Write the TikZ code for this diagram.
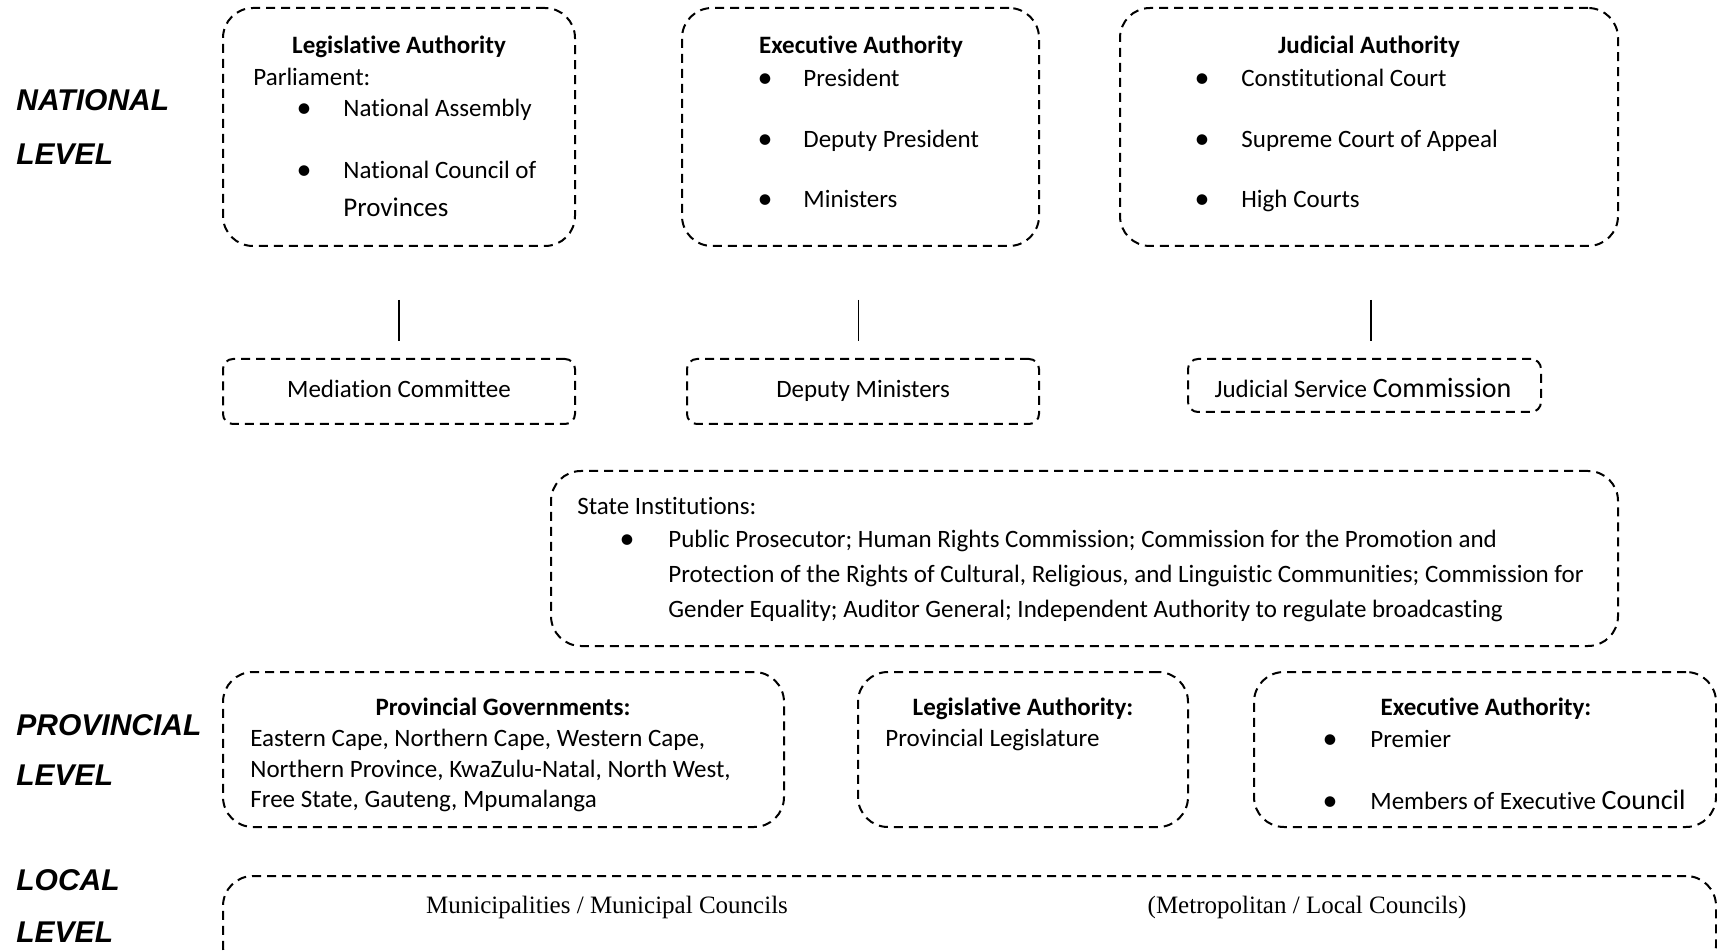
\documentclass[tikz,border=0pt]{standalone}
\usepackage{fontspec}
\setmainfont{Carlito}[Ligatures=NoCommon]
\newfontfamily\levelfont{Liberation Sans}
\newfontfamily\seriffont{Liberation Serif}
\usepackage{tikz}
\usetikzlibrary{positioning}

\begin{document}
\begin{tikzpicture}[
  x=0.5pt, y=-0.5pt,
  bigbox/.style={draw, line width=1pt, dash pattern=on 4.5pt off 3pt, rounded corners=15pt, inner sep=0pt},
  smallbox/.style={bigbox, rounded corners=5pt},
  txt/.style={anchor=base west, inner sep=0pt, font=\fontsize{12.5}{15}\selectfont},
  head/.style={txt, anchor=base, font=\fontsize{12.5}{15}\selectfont\bfseries},
  dot/.style={anchor=base, inner sep=0pt, font=\fontsize{15}{15}\selectfont},
  lvl/.style={anchor=base west, inner sep=0pt, font=\levelfont\fontsize{15}{17}\selectfont\bfseries\itshape},
  link/.style={draw, line width=0.6pt}
]
  \useasboundingbox (0,0) rectangle (1717,951);

  % level labels
  \node[lvl] (natA) at (16,111) {NATIONAL};
  \node[lvl] (natB) at (16,165) {LEVEL};
  \node[lvl] (proA) at (16,735) {PROVINCIAL};
  \node[lvl] (proB) at (16,785) {LEVEL};
  \node[lvl] (locA) at (16,890) {LOCAL};
  \node[lvl] (locB) at (16,942) {LEVEL};

  % national level
  \node[bigbox, minimum width=176pt, minimum height=119pt] (leg) at (399,127) {};
  \node[head] (legH) at (399,54) {Legislative Authority};
  \node[txt] (legP) at (253,86) {Parliament:};
  \node[dot] (legB1) at (304,118) {•};
  \node[txt] (legI1) at (343,117) {National Assembly};
  \node[dot] (legB2) at (304,180) {•};
  \node[txt] (legI2) at (343,179) {National Council of};
  \node[txt, font=\fontsize{13.5}{16}\selectfont] (legI3) at (343,217) {Provinces};

  \node[bigbox, minimum width=178.5pt, minimum height=119pt] (exe) at (860.5,127) {};
  \node[head] (exeH) at (861,54) {Executive Authority};
  \node[dot] (exeB1) at (765,88) {•};
  \node[txt] (exeI1) at (803,87) {President};
  \node[dot] (exeB2) at (765,149) {•};
  \node[txt] (exeI2) at (803,148) {Deputy President};
  \node[dot] (exeB3) at (765,209) {•};
  \node[txt] (exeI3) at (803,208) {Ministers};

  \node[bigbox, minimum width=249pt, minimum height=119pt] (jud) at (1369,127) {};
  \node[head] (judH) at (1369,54) {Judicial Authority};
  \node[dot] (judB1) at (1202,88) {•};
  \node[txt] (judI1) at (1241,87) {Constitutional Court};
  \node[dot] (judB2) at (1202,149) {•};
  \node[txt] (judI2) at (1241,148) {Supreme Court of Appeal};
  \node[dot] (judB3) at (1202,209) {•};
  \node[txt] (judI3) at (1241,208) {High Courts};

  \node[smallbox, minimum width=176pt, minimum height=32.5pt] (med) at (399,391.5) {};
  \node[head, font=\fontsize{12.5}{15}\selectfont] (medT) at (399,398) {Mediation Committee};
  \node[smallbox, minimum width=176pt, minimum height=32.5pt] (dep) at (863,391.5) {};
  \node[head, font=\fontsize{12.5}{15}\selectfont] (depT) at (863,398) {Deputy Ministers};
  \node[smallbox, minimum width=176.5pt, minimum height=26.5pt] (jsc) at (1364.5,385.5) {};
  \node[head, font=\fontsize{12.5}{15}\selectfont] (jscT) at (1363,398) {Judicial Service {\fontsize{14}{16}\selectfont Commission}};

  \draw[link, shorten <=26.5pt, shorten >=8.5pt] (leg.south) -- (leg.south |- med.north);
  \draw[link, shorten <=26.5pt, shorten >=8.5pt] ([xshift=-1pt]exe.south) -- ([xshift=-1pt]exe.south |- dep.north);
  \draw[link, shorten <=26.5pt, shorten >=8.5pt] ([xshift=1pt]jud.south) -- ([xshift=1pt]jud.south |- jsc.north);

  \node[bigbox, minimum width=533.5pt, minimum height=87.5pt] (sta) at (1084.5,558.5) {};
  \node[txt] (staH) at (577,515) {State Institutions:};
  \node[dot] (staB) at (627,548) {•};
  \node[txt] (staL1) at (668,547) {Public Prosecutor; Human Rights Commission; Commission for the Promotion and};
  \node[txt] (staL2) at (668,582) {Protection of the Rights of Cultural, Religious, and Linguistic Communities; Commission for};
  \node[txt] (staL3) at (668,617) {Gender Equality; Auditor General; Independent Authority to regulate broadcasting};

  % provincial level
  \node[bigbox, minimum width=280.5pt, minimum height=77.5pt] (pgov) at (503.5,749.5) {};
  \node[head] (pgovH) at (503,715) {Provincial Governments:};
  \node[txt] (pgovL1) at (250,746) {Eastern Cape, Northern Cape, Western Cape,};
  \node[txt] (pgovL2) at (250,777) {Northern Province, KwaZulu-Natal, North West,};
  \node[txt] (pgovL3) at (250,807) {Free State, Gauteng, Mpumalanga};

  \node[bigbox, minimum width=165pt, minimum height=77.5pt] (pleg) at (1023,749.5) {};
  \node[head] (plegH) at (1023,715) {Legislative Authority:};
  \node[txt] (plegL) at (885,746) {Provincial Legislature};

  \node[bigbox, minimum width=231pt, minimum height=77.5pt] (pexe) at (1485,749.5) {};
  \node[head] (pexeH) at (1486,715) {Executive Authority:};
  \node[dot] (pexeB1) at (1330,748) {•};
  \node[txt] (pexeI1) at (1370,747) {Premier};
  \node[dot] (pexeB2) at (1330,810) {•};
  \node[txt] (pexeI2) at (1370,809) {Members of Executive {\fontsize{14}{16}\selectfont Council}};

  % local level
  \node[bigbox, minimum width=746.5pt, minimum height=50pt] (loc) at (969.5,926) {};
  \node[anchor=base, inner sep=0pt, font=\seriffont\fontsize{12.5}{15}\selectfont] (locL) at (607,913) {Municipalities / Municipal Councils};
  \node[anchor=base, inner sep=0pt, font=\seriffont\fontsize{12.5}{15}\selectfont] (locR) at (1307,913) {(Metropolitan / Local Councils)};
\end{tikzpicture}
\end{document}
